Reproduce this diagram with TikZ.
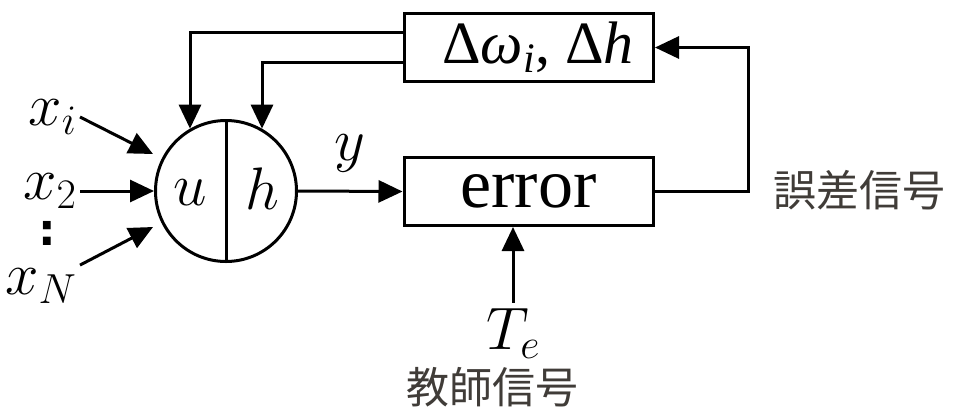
\RequirePackage{fix-cm}
\documentclass[tikz,border=0pt]{standalone}
\usepackage{fontspec}
\setmainfont{Liberation Serif}
\newfontfamily\jpfont{Noto Sans CJK JP}
\newfontfamily\dotfont{DejaVu Sans}
\usepackage{xcolor}
\definecolor{jpgray}{RGB}{64,60,56}
\usetikzlibrary{arrows.meta,calc,positioning}

\begin{document}
\begin{tikzpicture}[x=1pt,y=-1pt,line width=3pt,>={Triangle[length=24pt,width=22pt]},
    blk/.style={draw,minimum width=249pt,minimum height=68pt,inner sep=0pt},
    lab/.style={font=\fontsize{60}{60}\selectfont,inner sep=2pt},
    jp/.style={font=\fontsize{43}{43}\selectfont\jpfont,text=jpgray,inner sep=0pt}]
    \useasboundingbox (0,0) rectangle (962,408);
    \node[draw,circle,minimum size=141pt,inner sep=0pt] (neu) at (226,191) {};
    \draw (neu.north) -- (neu.south);
    \node[lab] (u) at (190,193) {$u$};
    \node[lab] (h) at (262,189) {$h$};
    \node[blk,font=\fontsize{60}{60}\selectfont] (upd) at (529,47.5)
      {\hspace{18pt}Δ\textit{ω}\textsubscript{\textit{i}}, Δ\textit{h}};
    \node[blk,font=\fontsize{70}{70}\selectfont] (err) at (528.5,191.5) {error};
    \node[lab,anchor=east] (xi) at (80,117) {$x_i$};
    \node[lab,anchor=east] (x2) at (80,191) {$x_2$};
    \node[inner sep=0pt,font=\fontsize{44}{44}\selectfont\dotfont\bfseries] (dots) at (47,233) {:};
    \node[lab,anchor=east] (xn) at (80,286) {$x_N$};
    \node[lab] (y) at (350,153) {$y$};
    \node[lab,inner sep=0pt] (te) at (513,333) {$T_e$};
    \node[jp] (teach) at (492,387) {教師信号};
    \node[jp] (esig) at (859,190) {誤差信号};
    \draw[->] (xi.east) -- ($(neu.west)+(-1,-37)$);
    \draw[->] (x2.east) -- (neu.west);
    \draw[->] (xn.north east) -- ($(neu.west)+(-1,36)$);
    \draw[->] ([yshift=15pt]upd.west) -| (neu.120);
    \draw[->] ([yshift=-15pt]upd.west) -| (neu.60);
    \draw[->] (neu.east) -- (err.west);
    \draw[->] (err.east) -- ++(94,0) |- (upd.east);
    \draw[->] ([yshift=4pt]te.north) -- (te.north |- err.south);
\end{tikzpicture}
\end{document}
